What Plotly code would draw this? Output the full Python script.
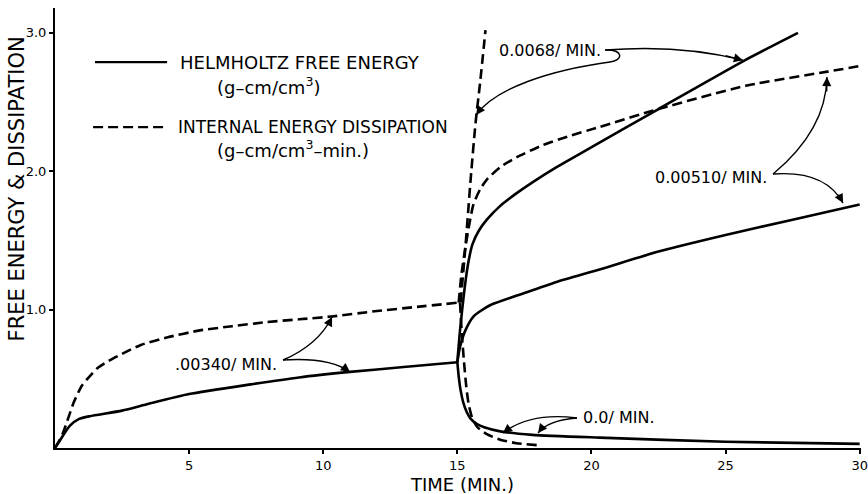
import plotly.graph_objects as go

# ---- data: time (min) and energy values ----
# loading phase, 0-15 min (rate .00340/min)
helm_t_load = [0, 0.2, 0.55, 0.9, 1.3, 2.5, 3.5, 5.0, 7.3, 9.1, 11.0, 13.0, 15.0]
helm_load = [0, 0.06, 0.16, 0.21, 0.23, 0.27, 0.32, 0.39, 0.46, 0.51, 0.55, 0.585, 0.62]
diss_t_load = [0, 0.15, 0.3, 0.5, 0.7, 1.0, 1.3, 1.6, 2.0, 2.5, 3.2, 4.2, 5.4, 6.6, 7.9,
               9.1, 10.3, 12.0, 13.5, 15.0]
diss_load = [0, 0.05, 0.11, 0.22, 0.33, 0.45, 0.52, 0.58, 0.63, 0.68, 0.745, 0.80, 0.85,
             0.88, 0.91, 0.93, 0.95, 0.99, 1.02, 1.05]

# after 15 min, rate 0.0068/min
helm_t_fast = [15.0, 15.1, 15.25, 15.4, 15.56, 15.8, 16.1, 16.6, 17.2, 17.8, 18.7, 19.6,
               22.5, 25.7, 27.7]
helm_fast = [0.62, 0.85, 1.12, 1.33, 1.47, 1.57, 1.65, 1.75, 1.84, 1.92, 2.03, 2.13,
             2.45, 2.80, 3.0]
diss_t_fast = [15.12, 15.3, 15.5, 15.68, 15.86, 16.05]
diss_fast = [1.05, 1.45, 1.95, 2.35, 2.66, 3.02]

# after 15 min, rate 0.00510/min
helm_t_mid = [15.0, 15.1, 15.3, 15.6, 16.2, 17.5, 18.7, 20.3, 22.5, 25.0, 27.5, 30.0]
helm_mid = [0.62, 0.73, 0.85, 0.95, 1.03, 1.12, 1.20, 1.29, 1.42, 1.54, 1.65, 1.76]
diss_t_mid = [15.05, 15.15, 15.3, 15.45, 15.6, 15.85, 16.1, 16.6, 17.2, 18.2, 19.1, 20.3,
              22.5, 25.8, 28.8, 30.0]
diss_mid = [1.05, 1.25, 1.45, 1.62, 1.76, 1.87, 1.94, 2.03, 2.10, 2.19, 2.25, 2.32,
            2.45, 2.62, 2.72, 2.76]

# after 15 min, rate 0.0/min
helm_t_zero = [15.0, 15.05, 15.12, 15.22, 15.35, 15.5, 15.75, 16.0, 16.6, 17.8, 20.3, 25.0, 30.0]
helm_zero = [0.62, 0.52, 0.42, 0.33, 0.26, 0.21, 0.17, 0.15, 0.12, 0.095, 0.075, 0.045, 0.03]
diss_t_zero = [15.1, 15.17, 15.25, 15.33, 15.42, 15.55, 15.75, 16.1, 16.6, 17.2, 18.0]
diss_zero = [1.05, 0.82, 0.62, 0.45, 0.32, 0.22, 0.15, 0.10, 0.06, 0.035, 0.02]

x_ticks = [5, 10, 15, 20, 25, 30]
y_ticks = [1.0, 2.0, 3.0]
y_tick_labels = ["1.0", "2.0", "3.0"]

FONT = "DejaVu Sans"
INK = "black"
LW = 2.6
DASH = "10px,5px"

fig = go.Figure()

solid_sets = [(helm_t_load, helm_load), (helm_t_fast, helm_fast),
              (helm_t_mid, helm_mid), (helm_t_zero, helm_zero)]
dashed_sets = [(diss_t_load, diss_load), (diss_t_fast, diss_fast),
               (diss_t_mid, diss_mid), (diss_t_zero, diss_zero)]

for tx, vy in solid_sets:
    fig.add_trace(go.Scatter(x=tx, y=vy, mode="lines", showlegend=False,
                             line=dict(color=INK, width=LW, shape="spline", smoothing=0.6)))
for tx, vy in dashed_sets:
    fig.add_trace(go.Scatter(x=tx, y=vy, mode="lines", showlegend=False,
                             line=dict(color=INK, width=LW, dash=DASH,
                                       shape="spline", smoothing=0.6)))

shapes = []
annotations = []

# legend keys
shapes.append(dict(type="line", xref="x", yref="y", x0=1.49, x1=4.18, y0=2.789, y1=2.789,
                   line=dict(color=INK, width=2.2)))
shapes.append(dict(type="line", xref="x", yref="y", x0=1.42, x1=4.10, y0=2.319, y1=2.319,
                   line=dict(color=INK, width=2.2, dash=DASH)))


def label(text, x, y, size, anchor="left", angle=0, xref="x", yref="y"):
    annotations.append(dict(text=text, x=x, y=y, xref=xref, yref=yref, showarrow=False,
                            xanchor=anchor, yanchor="middle", textangle=angle,
                            font=dict(family=FONT, size=size, color=INK)))


label("HELMHOLTZ FREE ENERGY", 4.59, 2.789, 18)
label("(g–cm/cm<sup>3</sup>)", 5.97, 2.616, 18)
label("INTERNAL ENERGY DISSIPATION", 4.51, 2.319, 17)
label("(g–cm/cm<sup>3</sup>–min.)", 5.97, 2.160, 18)

# rate callouts
label(".00340/ MIN.", 6.36, 0.60, 16, anchor="center")
label("0.0068/ MIN.", 18.46, 2.876, 16, anchor="center")
label("0.00510/ MIN.", 24.44, 1.958, 16, anchor="center")
label("0.0/ MIN.", 21.03, 0.217, 16, anchor="center")


def curve(path, tip, back):
    shapes.append(dict(type="path", xref="x", yref="y", path=path,
                       line=dict(color=INK, width=1.4)))
    bx = tip[0] + 0.3 * (back[0] - tip[0])
    by = tip[1] + 0.3 * (back[1] - tip[1])
    annotations.append(dict(x=tip[0], y=tip[1], ax=bx, ay=by, xref="x", yref="y",
                            axref="x", ayref="y", text="", showarrow=True,
                            arrowhead=2, arrowsize=1.3, arrowwidth=1.4,
                            arrowcolor=INK, standoff=0))


# .00340/min -> both loading curves
curve("M 8.50,0.636 Q 9.81,0.744 10.33,0.947", (10.33, 0.947), (9.81, 0.744))
curve("M 8.50,0.636 Q 10.25,0.657 11.0,0.549", (11.0, 0.549), (10.25, 0.657))
# 0.0068/min
curve("M 20.51,2.876 Q 23.30,2.919 25.65,2.803", (25.65, 2.803), (23.30, 2.919))
curve("M 20.51,2.876 C 21.20,2.883 21.20,2.800 20.69,2.790 "
      "C 18.46,2.731 16.41,2.601 15.70,2.406", (15.70, 2.406), (16.41, 2.601))
# 0.00510/min
curve("M 26.77,1.980 Q 28.75,2.298 28.78,2.681", (28.78, 2.681), (28.75, 2.298))
curve("M 26.77,1.980 Q 28.71,2.009 29.38,1.770", (29.38, 1.770), (28.71, 2.009))
# 0.0/min
curve("M 19.46,0.217 Q 17.71,0.260 16.70,0.108", (16.70, 0.108), (17.71, 0.260))
curve("M 19.46,0.217 Q 18.38,0.202 18.01,0.108", (18.01, 0.108), (18.38, 0.202))

# axis titles
label("FREE ENERGY &amp; DISSIPATION", -0.047, 0.588, 21, anchor="center", angle=-90,
      xref="paper", yref="paper")
label("TIME (MIN.)", 0.505, -0.082, 18, anchor="center", xref="paper", yref="paper")

axis_common = dict(showgrid=False, zeroline=False, showline=True, linecolor=INK, linewidth=2,
                   ticks="outside", ticklen=4, tickwidth=2, tickcolor=INK,
                   ticklabeloverflow="allow", automargin=False,
                   tickfont=dict(family=FONT, size=13, color=INK))

fig.update_layout(
    width=868, height=494,
    margin=dict(l=55, r=7, t=8, b=46, autoexpand=False),
    paper_bgcolor="white", plot_bgcolor="white",
    shapes=shapes, annotations=annotations,
    font=dict(family=FONT, color=INK),
    xaxis=dict(range=[0, 30.05], tickvals=x_ticks, ticktext=[str(v) for v in x_ticks],
               **axis_common),
    yaxis=dict(range=[0, 3.18], tickvals=y_ticks, ticktext=y_tick_labels, **axis_common),
)

fig.write_html("out.html")
